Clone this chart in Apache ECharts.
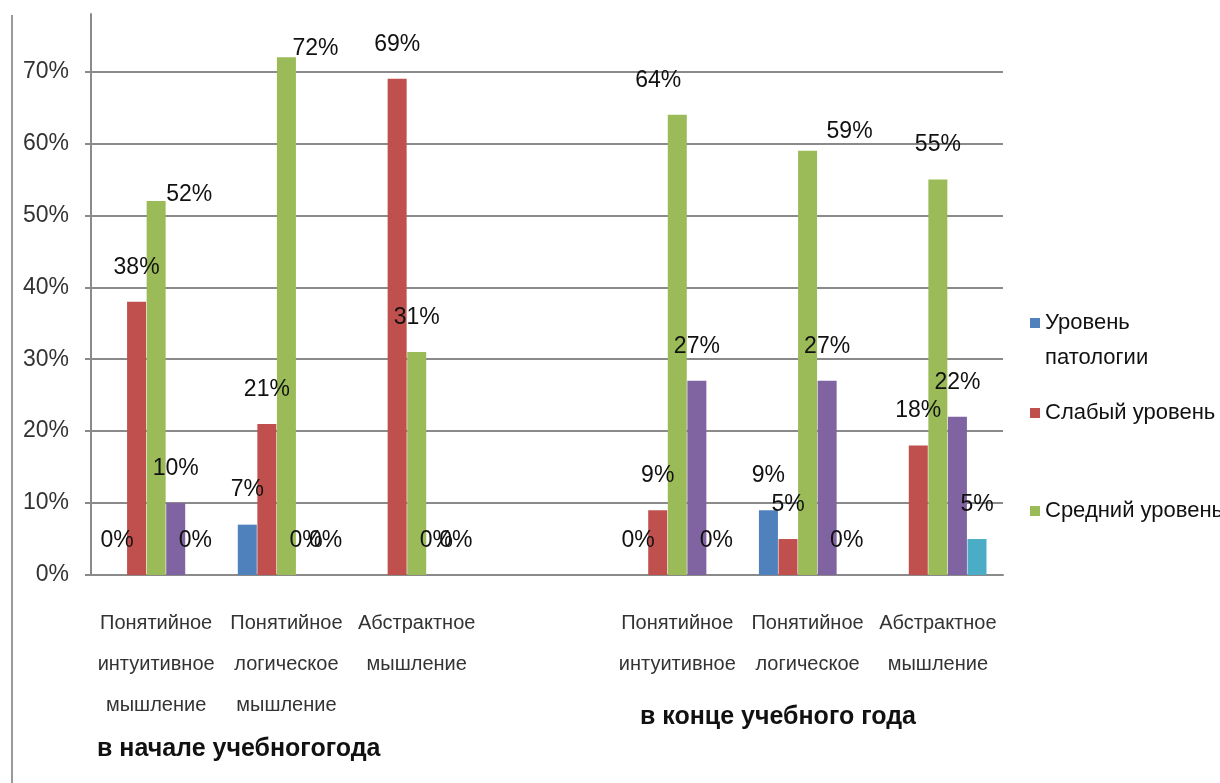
<!DOCTYPE html>
<html>
<head>
<meta charset="utf-8">
<script src="https://cdn.jsdelivr.net/npm/echarts@6/dist/echarts.min.js"></script>
<style>
  html, body { margin: 0; padding: 0; background: #fff; }
  #chart { width: 1220px; height: 783px; }
</style>
</head>
<body>
<div id="chart"></div>
<script>
// категории (четвёртая пустая - разрыв между началом и концом года)
const categories = [
  'Понятийное\nинтуитивное\nмышление',
  'Понятийное\nлогическое\nмышление',
  'Абстрактное\nмышление',
  '',
  'Понятийное\nинтуитивное',
  'Понятийное\nлогическое',
  'Абстрактное\nмышление'
];

// значения, %
const pathology = [0, 7, null, null, 0, 9, null];
const weak = [38, 21, 69, null, 9, 5, 18];
const middle = [52, 72, 31, null, 64, 59, 55];
const high = [10, 0, 0, null, 27, 27, 22];
const veryHigh = [0, 0, 0, null, 0, 0, 5];

// сдвиг подписей зелёных столбцов (как на оригинале)
const middleLabelDx = [33, 29, 0, 0, -19, 42, 0];
const middleLabelDy = [28, 26, 0, 0, 0, 16, 0];

const yTicks = [0, 10, 20, 30, 40, 50, 60, 70];

const textFont = '"Liberation Sans", sans-serif';

const myChart = echarts.init(document.getElementById('chart'));

const valueLabel = {
  show: true,
  position: 'top',
  distance: 23,
  formatter: '{c}%',
  color: '#111',
  fontFamily: textFont,
  fontSize: 23
};

const makeSeries = (name, data, color, dx, dy) => ({
  name: name,
  type: 'bar',
  barWidth: 19,
  barGap: '3%',
  itemStyle: { color: color },
  label: valueLabel,
  data: data.map((v, i) => {
    if (!dx || (dx[i] === 0 && dy[i] === 0)) return v;
    return { value: v, label: { offset: [dx[i], dy[i]] } };
  })
});

const legendBase = {
  orient: 'vertical',
  left: 1025,
  icon: 'rect',
  itemWidth: 10,
  itemHeight: 10,
  itemGap: 8,
  textStyle: { color: '#111', fontFamily: textFont, fontSize: 22 }
};

let option = {
  animation: false,
  grid: {
    left: 91,
    right: 217,
    top: 14,
    bottom: 208,
    containLabel: false
  },
  legend: [
    Object.assign({}, legendBase, {
      top: 307,
      data: ['Уровень патологии'],
      formatter: () => 'Уровень'
    }),
    Object.assign({}, legendBase, { top: 397, data: ['Слабый уровень'] }),
    Object.assign({}, legendBase, { top: 495, data: ['Средний уровень'] })
  ],
  xAxis: {
    type: 'category',
    data: categories,
    axisLine: { lineStyle: { color: '#8a8a8a', width: 2 } },
    axisTick: { length: 8, lineStyle: { color: '#8a8a8a', width: 2 } },
    axisLabel: {
      interval: 0,
      margin: 28,
      color: '#333',
      fontFamily: textFont,
      fontSize: 20,
      lineHeight: 41
    }
  },
  yAxis: {
    type: 'value',
    min: 0,
    max: 78,
    interval: 10,
    axisLine: { show: true, lineStyle: { color: '#8a8a8a', width: 2 } },
    axisTick: { show: true, length: 6, lineStyle: { color: '#8a8a8a', width: 2 } },
    splitLine: { show: true, showMaxLine: false, lineStyle: { color: '#8a8a8a', width: 2 } },
    axisLabel: {
      showMaxLabel: false,
      margin: 22,
      color: '#333',
      fontFamily: textFont,
      fontSize: 23,
      formatter: (v) => (yTicks.indexOf(v) >= 0 ? v + '%' : '')
    }
  },
  graphic: [
    {
      type: 'line',
      shape: { x1: 12, y1: 15, x2: 12, y2: 783 },
      style: { stroke: '#9a9a9a', lineWidth: 2 }
    },
    {
      type: 'text',
      left: 1045,
      top: 347,
      style: { text: 'патологии', fill: '#111', font: '22px ' + textFont }
    },
    {
      type: 'text',
      left: 97,
      top: 737,
      style: { text: 'в начале учебногогода', fill: '#111', font: 'bold 25px ' + textFont }
    },
    {
      type: 'text',
      left: 640,
      top: 705,
      style: { text: 'в конце учебного года', fill: '#111', font: 'bold 25px ' + textFont }
    }
  ],
  series: [
    makeSeries('Уровень патологии', pathology, '#4f81bd'),
    makeSeries('Слабый уровень', weak, '#c0504d'),
    makeSeries('Средний уровень', middle, '#9bbb59', middleLabelDx, middleLabelDy),
    makeSeries('Высокий уровень', high, '#8064a2'),
    makeSeries('Очень высокий уровень', veryHigh, '#4bacc6')
  ]
};

option && myChart.setOption(option);
</script>
</body>
</html>
